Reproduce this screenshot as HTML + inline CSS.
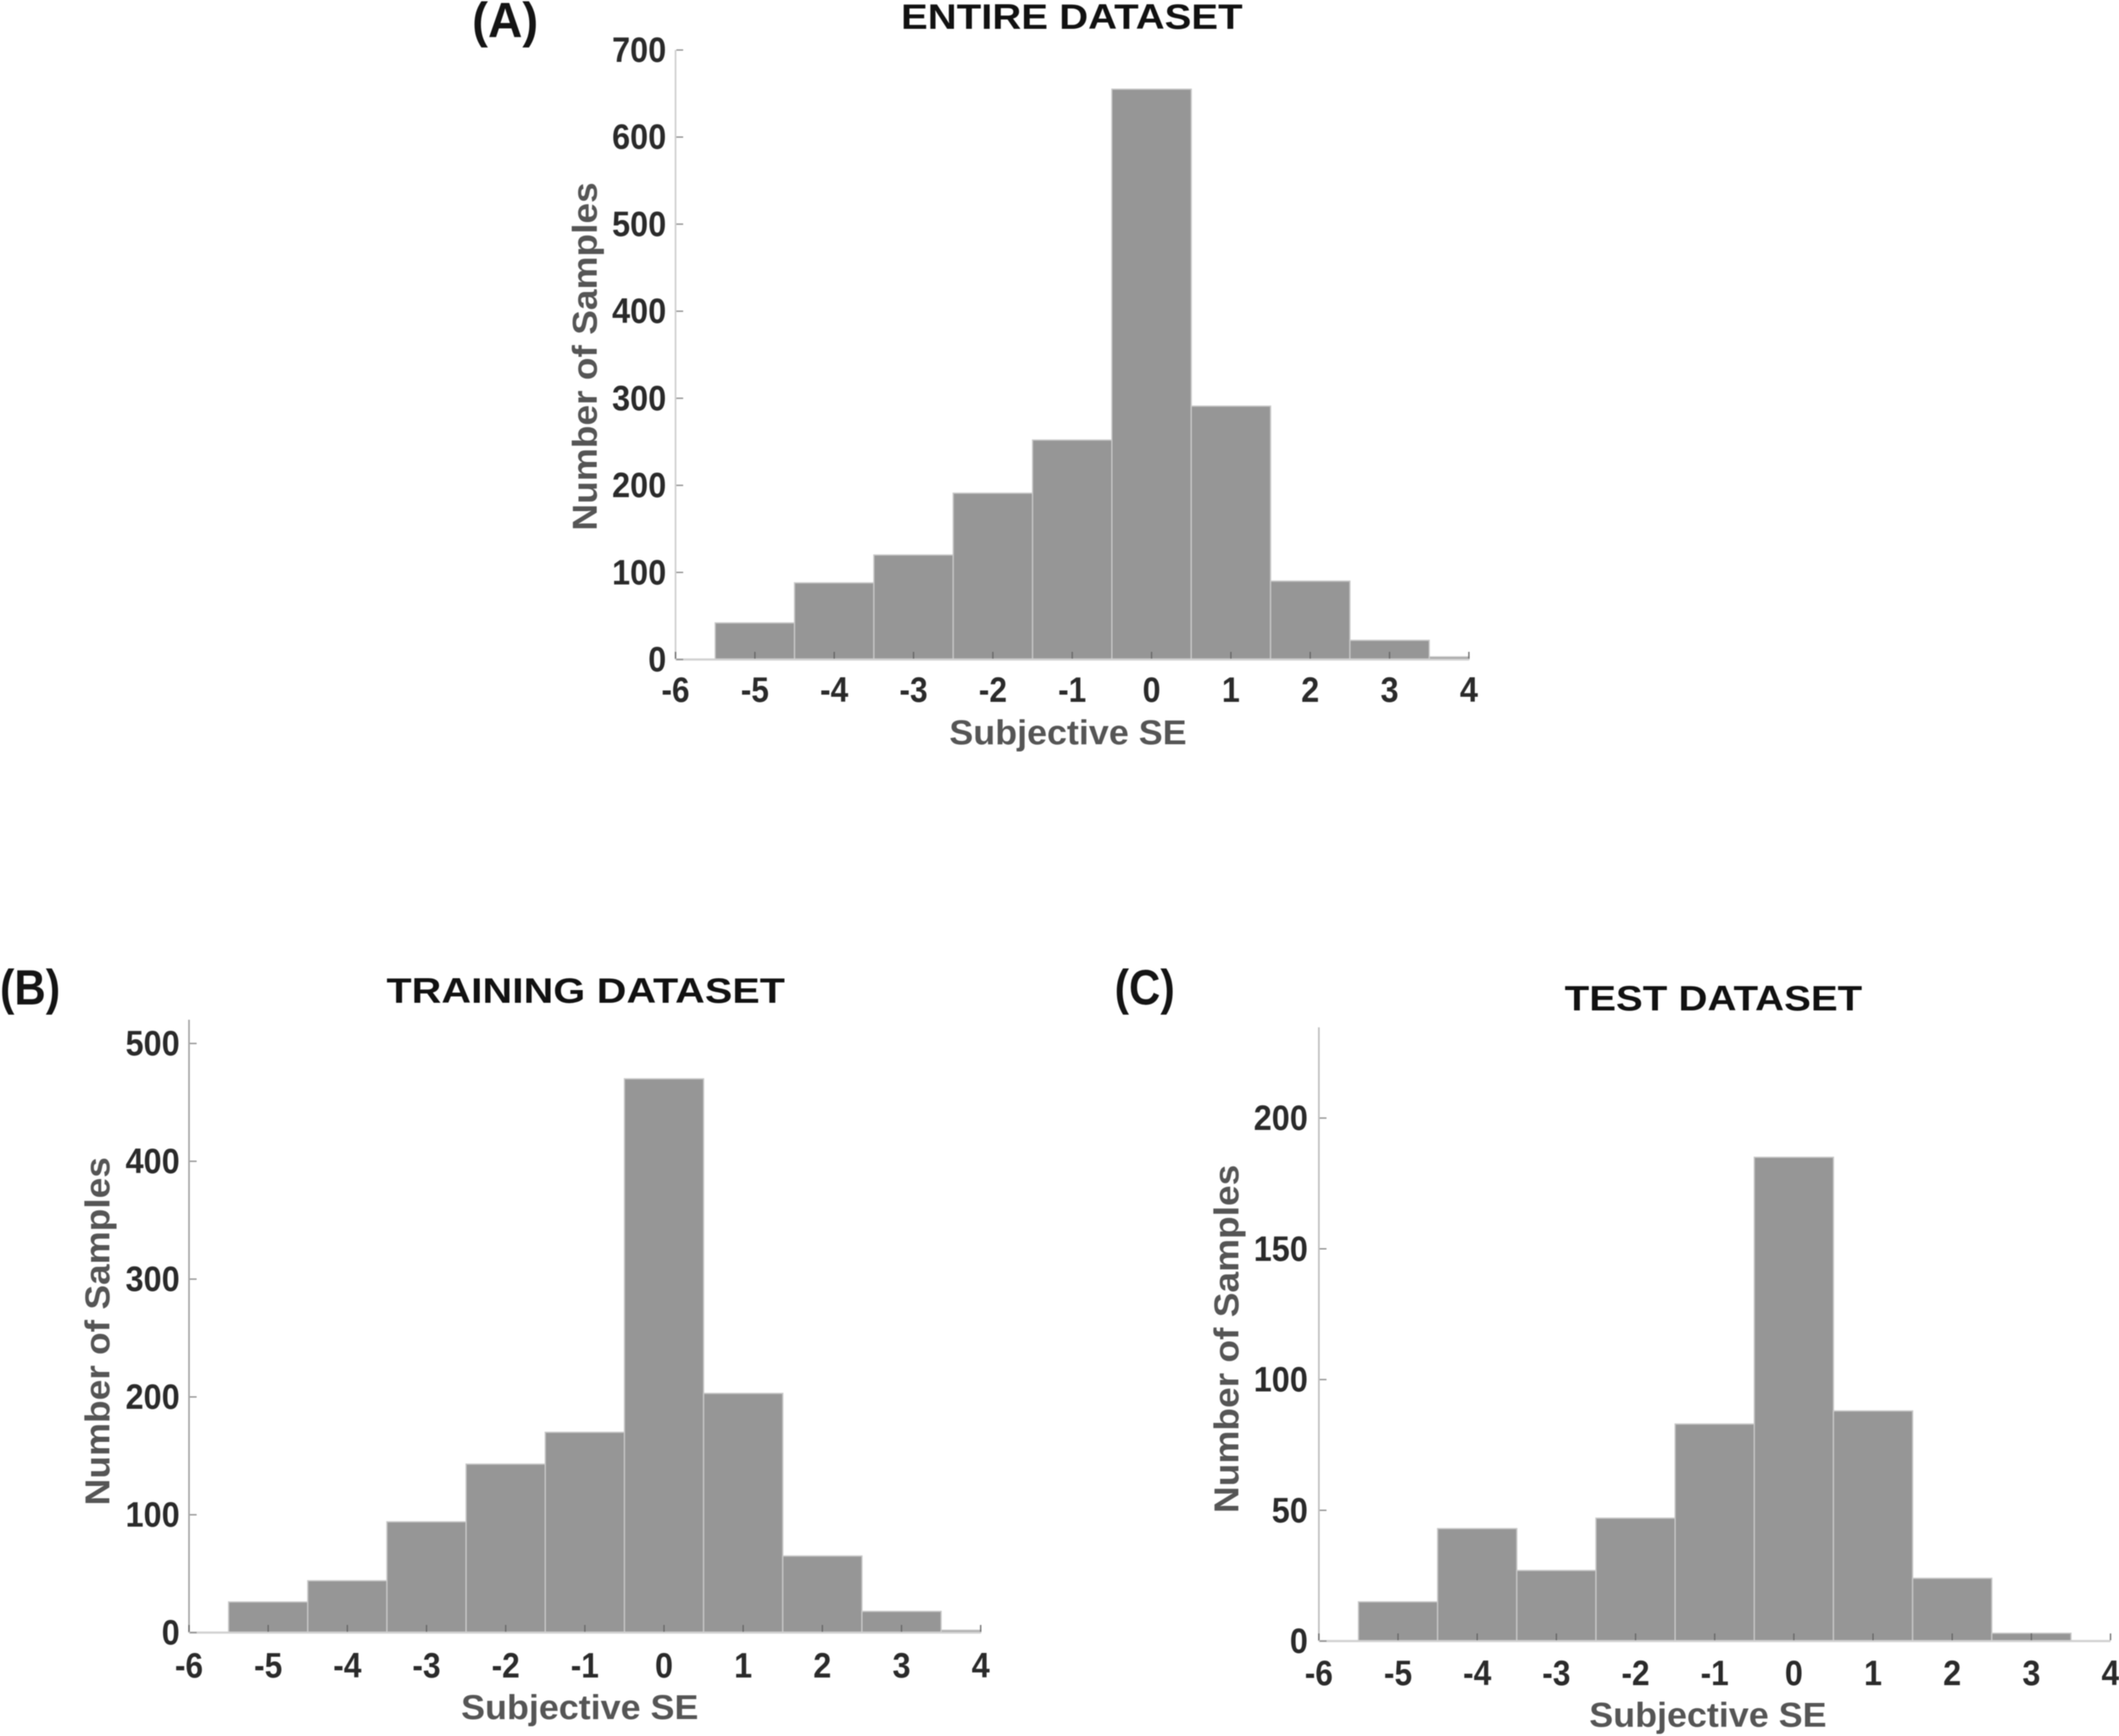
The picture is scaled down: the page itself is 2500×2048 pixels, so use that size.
<!DOCTYPE html>
<html lang="en">
<head>
<meta charset="utf-8">
<title>Subjective SE histograms</title>
<style>
html,body{margin:0;padding:0;background:#fff;}
svg{display:block;filter:blur(0.6px);}
text{font-family:"Liberation Sans",sans-serif;font-weight:bold;}
.panel-label{font-size:58px;fill:#141414;}
.title{font-size:42px;fill:#111;}
.axis-title{font-size:41px;fill:#555;}
.tick{font-size:42px;fill:#2a2a2a;}
</style>
</head>
<body>
<svg id="fig" xmlns="http://www.w3.org/2000/svg" width="2500" height="2048" viewBox="0 0 2500 2048">
  <rect x="0" y="0" width="2500" height="2048" fill="#ffffff"/>
  <text class="panel-label" x="557" y="44" textLength="78" lengthAdjust="spacingAndGlyphs">(A)</text>
  <text class="panel-label" x="0" y="1185" textLength="71" lengthAdjust="spacingAndGlyphs">(B)</text>
  <text class="panel-label" x="1315" y="1185" textLength="71" lengthAdjust="spacingAndGlyphs">(C)</text>
  <text class="title" x="1063" y="34" textLength="403" lengthAdjust="spacingAndGlyphs">ENTIRE DATASET</text>
  <text class="title" x="456" y="1183" textLength="470" lengthAdjust="spacingAndGlyphs">TRAINING DATASET</text>
  <text class="title" x="1846" y="1192" textLength="351" lengthAdjust="spacingAndGlyphs">TEST DATASET</text>
  <text class="axis-title" x="1120" y="878" textLength="280" lengthAdjust="spacingAndGlyphs">Subjective SE</text>
  <text class="axis-title" x="544" y="2028" textLength="280" lengthAdjust="spacingAndGlyphs">Subjective SE</text>
  <text class="axis-title" x="1875" y="2037" textLength="280" lengthAdjust="spacingAndGlyphs">Subjective SE</text>
  <text class="axis-title" transform="translate(704 626) rotate(-90)" textLength="411" lengthAdjust="spacingAndGlyphs">Number of Samples</text>
  <text class="axis-title" transform="translate(129 1776) rotate(-90)" textLength="411" lengthAdjust="spacingAndGlyphs">Number of Samples</text>
  <text class="axis-title" transform="translate(1461 1785) rotate(-90)" textLength="411" lengthAdjust="spacingAndGlyphs">Number of Samples</text>
</svg>
<script>
// Histogram data
var binEdges = [-5.5, -4.5, -3.5, -2.5, -1.5, -0.5, 0.5, 1.5, 2.5, 3.5, 4];
var entireCounts = [42, 88, 120, 191, 252, 655, 291, 90, 22, 3];
var trainingCounts = [26, 44, 94, 143, 170, 470, 203, 65, 18, 2];
var testCounts = [15, 43, 27, 47, 83, 185, 88, 24, 3, 0];
var xTickValues = [-6, -5, -4, -3, -2, -1, 0, 1, 2, 3, 4];
var entireYTicks = [0, 100, 200, 300, 400, 500, 600, 700];
var trainingYTicks = [0, 100, 200, 300, 400, 500];
var testYTicks = [0, 50, 100, 150, 200];

var SVG_NS = 'http://www.w3.org/2000/svg';
var fig = document.getElementById('fig');

function make(tag, attrs) {
  var el = document.createElementNS(SVG_NS, tag);
  for (var k in attrs) { el.setAttribute(k, attrs[k]); }
  fig.appendChild(el);
  return el;
}

// Reference glyphs are condensed: squeeze each tick label to its measured width
function labelWidth(str) {
  var w = 0;
  for (var i = 0; i < str.length; i++) { w += str[i] === '-' ? 12 : 21.3; }
  return w;
}

function drawHistogram(key, counts, yTicks, box) {
  var xScale = function (v) { return box.x0 + (v - (-6)) * (box.x1 - box.x0) / 10; };
  var yScale = function (v) { return box.y0 - (v / box.yRef) * (box.y0 - box.yRefPx); };

  // bars
  counts.forEach(function (count, i) {
    if (count <= 0) { return; }
    var left = xScale(binEdges[i]);
    var right = xScale(binEdges[i + 1]);
    var top = yScale(count);
    var bar = make('rect', { x: left, y: top, width: right - left, height: box.y0 - top,
      fill: '#969696', stroke: '#c8c8c8', 'stroke-width': 1.5 });
    
    
  });

  // axis lines
  var yAxis = make('line', { x1: box.x0, x2: box.x0, y1: box.y0, y2: box.yTop,
    stroke: box.axisColor, 'stroke-width': 2 });
  
  
  var xAxis = make('line', { x1: box.x0, x2: box.x1, y1: box.y0, y2: box.y0,
    stroke: '#d0d0d0', 'stroke-width': 2.5 });
  
  

  // x ticks and labels
  xTickValues.forEach(function (v) {
    var tx = xScale(v);
    var xTick = make('line', { x1: tx, x2: tx, y1: box.y0 - 1, y2: box.y0 - 9,
      stroke: '#666666', 'stroke-width': 1.5 });
    
    
    var xLabel = make('text', { x: tx, y: box.xLabelY, 'text-anchor': 'middle', 'class': 'tick',
      textLength: labelWidth(String(v)), lengthAdjust: 'spacingAndGlyphs' });
    xLabel.textContent = String(v);
    
    
  });

  // y ticks and labels
  yTicks.forEach(function (v) {
    var ty = yScale(v);
    var yTick = make('line', { x1: box.x0 + 1, x2: box.x0 + 9, y1: ty, y2: ty,
      stroke: '#8a8a8a', 'stroke-width': 1.5 });
    
    
    var yLabel = make('text', { x: box.yLabelX, y: ty + box.yLabelDy, 'text-anchor': 'end', 'class': 'tick',
      textLength: labelWidth(String(v)), lengthAdjust: 'spacingAndGlyphs' });
    yLabel.textContent = String(v);
    
    
  });
}

drawHistogram('entire', entireCounts, entireYTicks,
  { x0: 797, x1: 1733, y0: 778, yTop: 59, yRef: 700, yRefPx: 59, xLabelY: 828, yLabelX: 786, yLabelDy: 14, axisColor: '#d0d0d0' });
drawHistogram('training', trainingCounts, trainingYTicks,
  { x0: 223, x1: 1157, y0: 1926, yTop: 1203, yRef: 500, yRefPx: 1231, xLabelY: 1979, yLabelX: 212, yLabelDy: 14, axisColor: '#a8a8a8' });
drawHistogram('test', testCounts, testYTicks,
  { x0: 1556, x1: 2490, y0: 1936, yTop: 1212, yRef: 200, yRefPx: 1319, xLabelY: 1988, yLabelX: 1543, yLabelDy: 14, axisColor: '#c0c0c0' });
</script>
</body>
</html>
